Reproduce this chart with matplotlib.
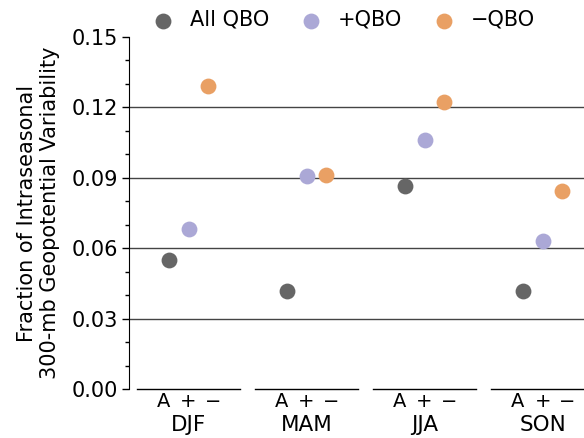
import numpy as np
import matplotlib.pyplot as plt
from matplotlib.ticker import MultipleLocator

# data
seasons = ["DJF", "MAM", "JJA", "SON"]
all_qbo = [0.0550, 0.0418, 0.0865, 0.0418]
pos_qbo = [0.0682, 0.0908, 0.1061, 0.0631]
neg_qbo = [0.1291, 0.0912, 0.1223, 0.0844]
sub_labels = ["A", "+", "\u2212"]
series_names = ["All QBO", "+QBO", "\u2212QBO"]
colors = ["#666666", "#aba8d6", "#e9a064"]

fig = plt.figure(figsize=(5.84, 4.38), dpi=100)
ax = fig.add_axes([0.2217, 0.1119, 0.7783, 0.8036])

x = np.arange(len(seasons))
offset = 0.165
for i, (vals, name, col) in enumerate(zip([all_qbo, pos_qbo, neg_qbo], series_names, colors)):
    ax.scatter(x + (i - 1) * offset, vals, s=130, color=col, label=name,
               zorder=3, linewidths=0)

# grid lines at major ticks
for yv in [0.03, 0.06, 0.09, 0.12]:
    ax.axhline(yv, color="#444444", lw=1.0, zorder=1)

# group baselines
for xi in x:
    ax.plot([xi - 0.436, xi + 0.436], [0, 0], color="black", lw=1.0,
            clip_on=False, zorder=2)

ax.set_xlim(-0.5, 3.35)
ax.set_ylim(0, 0.15)
ax.set_yticks([0.0, 0.03, 0.06, 0.09, 0.12, 0.15])
ax.set_yticklabels(["0.00", "0.03", "0.06", "0.09", "0.12", "0.15"])
ax.yaxis.set_minor_locator(MultipleLocator(0.01))
ax.tick_params(axis="y", which="major", labelsize=15, length=5, width=1)
ax.tick_params(axis="y", which="minor", length=3, width=1)

# x labels: season names and A/+/- under each group
ax.set_xticks(x)
ax.set_xticklabels(seasons)
ax.tick_params(axis="x", which="major", labelsize=15.5, length=0, pad=19)
trans = ax.get_xaxis_transform()
for xi in x:
    for i, lab in enumerate(sub_labels):
        ax.text(xi + (i - 1) * 0.21, -0.008, lab, transform=trans,
                ha="center", va="top", fontsize=14)

for side in ["top", "right", "bottom"]:
    ax.spines[side].set_visible(False)

ax.set_ylabel("Fraction of Intraseasonal\n300-mb Geopotential Variability",
              fontsize=15, labelpad=8)

fig.legend(loc="upper center", bbox_to_anchor=(0.58, 1.02), ncol=3,
           frameon=False, fontsize=15, handletextpad=0.3, columnspacing=1.0,
           markerscale=1.0)

fig.savefig("out.png", dpi=100)
